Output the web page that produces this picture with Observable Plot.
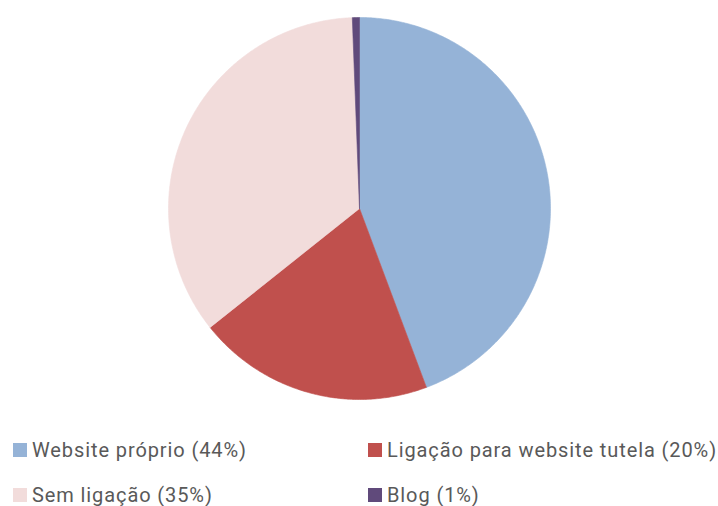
<!DOCTYPE html>
<html>
<head>
<meta charset="utf-8">
<script src="https://cdn.jsdelivr.net/npm/d3@7"></script>
<script src="https://cdn.jsdelivr.net/npm/@observablehq/plot@0.6"></script>
<style>
  html, body { margin: 0; padding: 0; background: #fff; }
  #wrap { position: relative; width: 718px; height: 506px; overflow: hidden; }
  #chart { position: absolute; left: 0; top: 0; }
  .item { position: absolute; display: flex; align-items: center; font-family: Roboto, "Noto Sans", sans-serif; font-size: 20px; letter-spacing: 0.9px; color: #595959; white-space: nowrap; line-height: 24px; }
  .sw { width: 14px; height: 14px; margin-right: 5px; flex: none; }
</style>
</head>
<body>
<div id="wrap"><div id="chart"></div></div>
<script>
const categories = ["Website próprio", "Ligação para website tutela", "Sem ligação", "Blog"];
const values = [44.3, 20.0, 35.1, 0.6];
const colors = ["#95B3D7", "#C0504D", "#F2DCDB", "#604A7B"];
const legendOrder = ["Website próprio", "Ligação para website tutela", "Sem ligação", "Blog"];

const data = categories.map((c, i) => ({category: c, value: values[i]}));
const pie = d3.pie().sort(null).value(d => d.value)(data);

// build slice outlines in unit-circle coordinates (angle from top, clockwise)
const pts = [];
for (const a of pie) {
  const cat = a.data.category;
  pts.push({category: cat, x: 0, y: 0});
  const steps = Math.max(2, Math.ceil((a.endAngle - a.startAngle) / (Math.PI / 360)));
  for (let k = 0; k <= steps; k++) {
    const t = a.startAngle + (a.endAngle - a.startAngle) * k / steps;
    pts.push({category: cat, x: Math.sin(t), y: Math.cos(t)});
  }
  pts.push({category: cat, x: 0, y: 0});
}

const cx = 359, cy = 208, r = 191;
const chart = Plot.plot({
  width: 718,
  height: 420,
  margin: 0,
  x: {domain: [-1, 1], range: [cx - r, cx + r], axis: null},
  y: {domain: [-1, 1], range: [cy + r, cy - r], axis: null},
  color: {domain: categories, range: colors},
  marks: [
    Plot.line(pts, {x: "x", y: "y", z: "category", fill: "category", stroke: "category", strokeWidth: 0.6, curve: "linear"})
  ]
});
document.getElementById("chart").appendChild(chart);

// legend
const pos = [[13, 438], [368, 438], [13, 483], [368, 483]];
const wrap = document.getElementById("wrap");
legendOrder.forEach((c, i) => {
  const idx = categories.indexOf(c);
  const pct = Math.round(values[idx] / d3.sum(values) * 100);
  const el = document.createElement("div");
  el.className = "item";
  el.style.left = pos[i][0] + "px";
  el.style.top = pos[i][1] + "px";
  el.innerHTML = `<span class="sw" style="background:${colors[idx]}"></span><span>${c} (${pct}%)</span>`;
  wrap.appendChild(el);
});
</script>
</body>
</html>
